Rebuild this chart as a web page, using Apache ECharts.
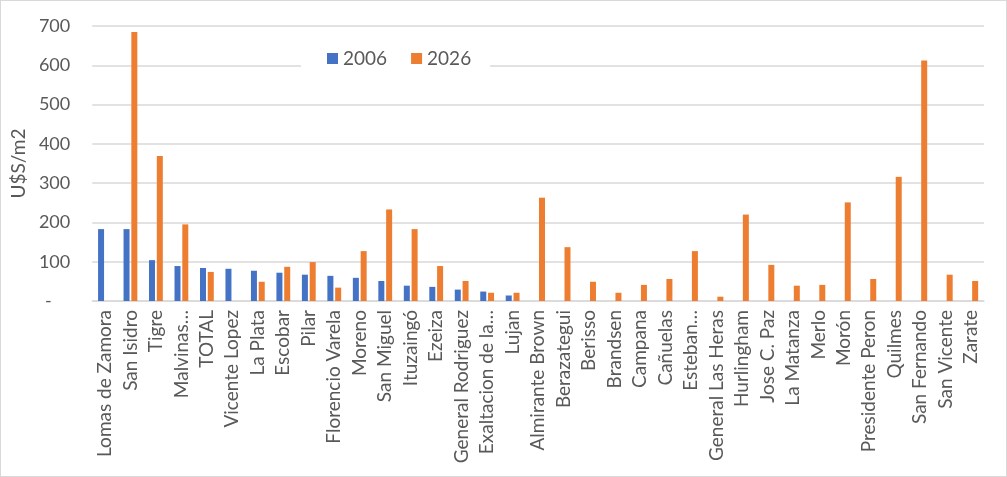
<!DOCTYPE html>
<html>
<head>
<meta charset="utf-8">
<script src="https://cdn.jsdelivr.net/npm/echarts@6/dist/echarts.min.js"></script>
<style>
html,body{margin:0;padding:0;background:#fff;}
#c{width:1005px;height:475px;border:1px solid #d9d9d9;}
</style>
</head>
<body>
<div id="c"></div>
<script>
const categories = ["Lomas de Zamora","San Isidro","Tigre","Malvinas…","TOTAL","Vicente Lopez","La Plata","Escobar","Pilar","Florencio Varela","Moreno","San Miguel","Ituzaingó","Ezeiza","General Rodriguez","Exaltacion de la…","Lujan","Almirante Brown","Berazategui","Berisso","Brandsen","Campana","Cañuelas","Esteban…","General Las Heras","Hurlingham","Jose C. Paz","La Matanza","Merlo","Morón","Presidente Peron","Quilmes","San Fernando","San Vicente","Zarate"];
const values2006 = [183,183,104,89,84,82,77,72,67,64,59,51,39,36,29,24,14,null,null,null,null,null,null,null,null,null,null,null,null,null,null,null,null,null,null];
const values2026 = [null,685,369,195,74,null,49,87,99,34,127,233,183,89,51,21,21,263,137,49,21,41,56,127,11,220,92,39,41,251,56,316,612,67,51];
const yTicks = [0,100,200,300,400,500,600,700];

const FONT = 'Lato';
const chart = echarts.init(document.getElementById('c'));
chart.setOption({
  animation:false,
  textStyle:{fontFamily:FONT},
  color:['#4472C4','#ED7D31'],
  legend:{
    left:300, top:40,
    padding:[8,19,8,26],
    backgroundColor:'#fff',
    itemWidth:11, itemHeight:11, itemGap:24,
    icon:'rect',
    textStyle:{fontSize:19,color:'#595959',fontFamily:FONT},
    data:['2006','2026']
  },
  grid:{left:84,right:22,top:25,bottom:175},
  xAxis:{
    type:'category',
    data:categories,
    axisLine:{lineStyle:{color:'#d9d9d9',width:1.5}},
    axisTick:{show:false},
    axisLabel:{rotate:90,interval:0,fontSize:19,color:'#595959',fontFamily:FONT,margin:9}
  },
  yAxis:{
    type:'value',
    min:yTicks[0], max:yTicks[yTicks.length-1], interval:100,
    name:'U$S/m2',
    nameLocation:'middle',
    nameGap:62,
    nameTextStyle:{fontSize:19,color:'#595959',fontFamily:FONT},
    axisLine:{show:false},
    axisTick:{show:false},
    splitLine:{lineStyle:{color:'#d9d9d9',width:1.5}},
    axisLabel:{fontSize:18,color:'#595959',fontFamily:FONT,margin:22,
      formatter:v=> v===0 ? '-    ' : String(v)}
  },
  series:[
    {name:'2006',type:'bar',data:values2006,barWidth:6,barGap:'30%'},
    {name:'2026',type:'bar',data:values2026,barWidth:6,barGap:'30%'}
  ]
});
</script>
</body>
</html>
